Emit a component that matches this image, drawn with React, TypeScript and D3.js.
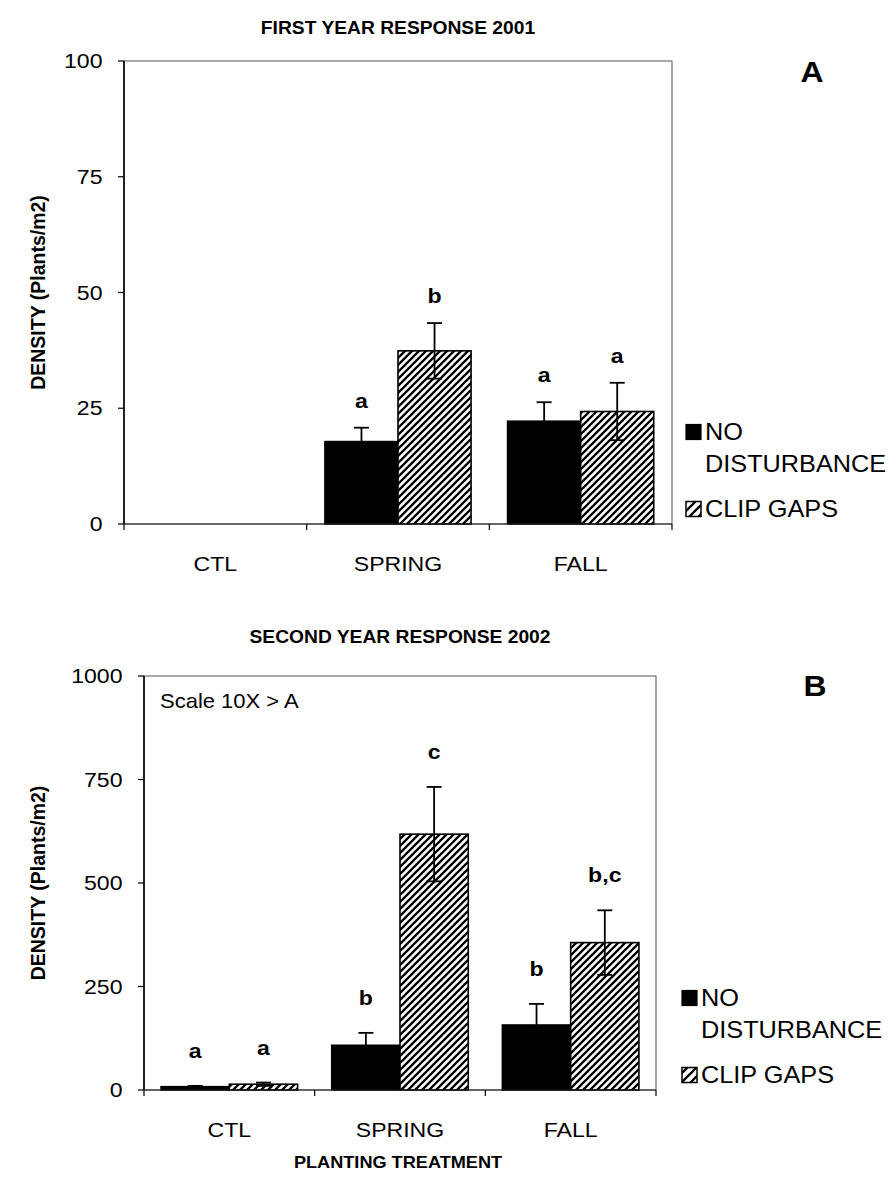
import React from "react";
import * as d3 from "d3";

const categories = ["CTL", "SPRING", "FALL"];
const seriesLabels = ["NO", "DISTURBANCE", "CLIP GAPS"];

// First year response (2001), plants/m2
const firstNoDisturbance = [0, 17.8, 22.2];
const firstClipGaps = [0, 37.4, 24.3];
const firstNoDisturbanceSE = [0, 3.0, 4.1];
const firstClipGapsSE = [0, 6.0, 6.2];
const firstNoDisturbanceLetters = ["", "a", "a"];
const firstClipGapsLetters = ["", "b", "a"];
const firstTicks = [0, 25, 50, 75, 100];

// Second year response (2002), plants/m2
const secondNoDisturbance = [8, 108, 157];
const secondClipGaps = [14, 618, 356];
const secondNoDisturbanceSE = [2, 30, 51];
const secondClipGapsSE = [4, 114, 78];
const secondNoDisturbanceLetters = ["a", "b", "b"];
const secondClipGapsLetters = ["a", "c", "b,c"];
const secondTicks = [0, 250, 500, 750, 1000];

const FONT = "'Liberation Sans', Arial, Helvetica, sans-serif";
const SX = 1.1; // glyphs in this figure are set slightly wide

type TxtProps = {
  x: number;
  y: number;
  size: number;
  anchor?: "start" | "middle" | "end";
  bold?: boolean;
  central?: boolean;
  children: React.ReactNode;
};

function Txt({ x, y, size, anchor = "middle", bold = false, central = true, children }: TxtProps) {
  return (
    <text
      transform={`translate(${x},${y}) scale(${SX},1)`}
      textAnchor={anchor}
      dominantBaseline={central ? "central" : "alphabetic"}
      fontFamily={FONT}
      fontSize={size}
      fontWeight={bold ? "bold" : "normal"}
      fill="#000"
    >
      {children}
    </text>
  );
}

type PanelProps = {
  title: string;
  tag: string;
  titleY: number;
  tagX: number;
  tagY: number;
  left: number;
  right: number;
  top: number;
  bottom: number;
  yMax: number;
  ticks: number[];
  noDist: number[];
  clip: number[];
  noDistSE: number[];
  clipSE: number[];
  noDistLetters: string[];
  clipLetters: string[];
  letterGap: number;
  legendX: number;
  note?: string;
};

function Panel(p: PanelProps) {
  const x = d3.scaleBand<string>().domain(categories).range([p.left, p.right]).paddingInner(0.2).paddingOuter(0.1);
  const sub = d3.scaleBand<number>().domain([0, 1]).range([0, x.bandwidth()]);
  const y = d3.scaleLinear().domain([0, p.yMax]).range([p.bottom, p.top]);
  const step = x.step();
  const boundaries = d3.range(categories.length + 1).map((i) => p.left + i * step);
  const series = [
    { values: p.noDist, se: p.noDistSE, letters: p.noDistLetters, fill: "#000" },
    { values: p.clip, se: p.clipSE, letters: p.clipLetters, fill: "url(#hatch)" },
  ];
  const midY = (p.top + p.bottom) / 2;
  const cap = 7.5;

  return (
    <g>
      <Txt x={(p.left + p.right) / 2} y={p.titleY} size={17.5} bold>
        {p.title}
      </Txt>
      <Txt x={p.tagX} y={p.tagY} size={29} bold>
        {p.tag}
      </Txt>

      {/* y axis title */}
      <text
        transform={`translate(38,${midY}) rotate(-90)`}
        textAnchor="middle"
        dominantBaseline="central"
        fontFamily={FONT}
        fontSize={19.5}
        fontWeight="bold"
      >
        DENSITY (Plants/m2)
      </text>

      {/* plot frame */}
      <rect x={p.left} y={p.top} width={p.right - p.left} height={p.bottom - p.top} fill="none" stroke="#555" strokeWidth={1} />

      {/* bars */}
      {series.map((s, si) =>
        categories.map((c, ci) => {
          const v = s.values[ci];
          const bx = (x(c) as number) + (sub(si) as number);
          const bw = sub.bandwidth();
          const h = p.bottom - y(v);
          return h > 0 ? (
            <rect key={`b${si}${ci}`} x={bx} y={y(v)} width={bw} height={h} fill={s.fill} stroke="#000" strokeWidth={1.6} />
          ) : null;
        })
      )}

      {/* error bars */}
      {series.map((s, si) =>
        categories.map((c, ci) => {
          const v = s.values[ci];
          const e = s.se[ci];
          if (e <= 0) return null;
          const cx = (x(c) as number) + (sub(si) as number) + sub.bandwidth() / 2;
          const yt = y(v + e);
          const yb = y(Math.max(0, v - e));
          return (
            <g key={`e${si}${ci}`} stroke="#000" strokeWidth={1.8}>
              <line x1={cx} x2={cx} y1={yt} y2={yb} />
              <line x1={cx - cap} x2={cx + cap} y1={yt} y2={yt} />
              <line x1={cx - cap} x2={cx + cap} y1={yb} y2={yb} />
            </g>
          );
        })
      )}

      {/* significance letters */}
      {series.map((s, si) =>
        categories.map((c, ci) => {
          const lbl = s.letters[ci];
          if (!lbl) return null;
          const cx = (x(c) as number) + (sub(si) as number) + sub.bandwidth() / 2;
          const yl = y(s.values[ci] + s.se[ci]) - p.letterGap;
          return (
            <Txt key={`l${si}${ci}`} x={cx} y={yl} size={21} bold central={false}>
              {lbl}
            </Txt>
          );
        })
      )}

      {/* axes */}
      <line x1={p.left} x2={p.left} y1={p.top} y2={p.bottom} stroke="#000" strokeWidth={1.6} />
      <line x1={p.left} x2={p.right} y1={p.bottom} y2={p.bottom} stroke="#222" strokeWidth={1.2} />
      {p.ticks.map((t) => (
        <g key={`t${t}`}>
          <line x1={p.left - 6} x2={p.left} y1={y(t)} y2={y(t)} stroke="#000" strokeWidth={1.2} />
          <Txt x={p.left - 21.5} y={y(t)} size={21} anchor="end">
            {t}
          </Txt>
        </g>
      ))}
      {boundaries.map((bx, i) => (
        <line key={`xb${i}`} x1={bx} x2={bx} y1={p.bottom} y2={p.bottom + 6} stroke="#000" strokeWidth={1.2} />
      ))}
      {categories.map((c) => (
        <Txt key={`c${c}`} x={(x(c) as number) + x.bandwidth() / 2} y={p.bottom + 40} size={21}>
          {c}
        </Txt>
      ))}

      {p.note ? (
        <Txt x={p.left + 16} y={p.top + 25} size={20} anchor="start">
          {p.note}
        </Txt>
      ) : null}

      {/* legend */}
      <rect x={p.legendX} y={p.bottom - 92 - 7.5} width={15} height={15} fill="#000" stroke="#000" strokeWidth={1.2} />
      <Txt x={p.legendX + 19} y={p.bottom - 92} size={23} anchor="start">
        {seriesLabels[0]}
      </Txt>
      <Txt x={p.legendX + 19} y={p.bottom - 60} size={23} anchor="start">
        {seriesLabels[1]}
      </Txt>
      <rect x={p.legendX} y={p.bottom - 15 - 7.5} width={15} height={15} fill="url(#hatchLegend)" stroke="#000" strokeWidth={1.5} />
      <Txt x={p.legendX + 19} y={p.bottom - 15} size={23} anchor="start">
        {seriesLabels[2]}
      </Txt>
    </g>
  );
}

export default function App() {
  return (
    <svg
      width={896}
      height={1193}
      viewBox="0 0 896 1193"
      style={{ position: "absolute", left: 0, top: 0, background: "#fff" }}
    >
      <defs>
        <pattern id="hatch" patternUnits="userSpaceOnUse" width={7} height={7}>
          <rect width={7} height={7} fill="#fff" />
          <path d="M-1,1 L1,-1 M0,7 L7,0 M6,8 L8,6" stroke="#000" strokeWidth={2.3} />
        </pattern>
        <pattern id="hatchLegend" patternUnits="userSpaceOnUse" width={9} height={9}>
          <rect width={9} height={9} fill="#fff" />
          <path d="M-1,1 L1,-1 M0,9 L9,0 M8,10 L10,8" stroke="#000" strokeWidth={2.3} />
        </pattern>
      </defs>
      <rect width={896} height={1193} fill="#fff" />

      <Panel
        title="FIRST YEAR RESPONSE 2001"
        tag="A"
        titleY={28}
        tagX={812}
        tagY={72}
        left={124}
        right={672}
        top={61}
        bottom={524}
        yMax={100}
        ticks={firstTicks}
        noDist={firstNoDisturbance}
        clip={firstClipGaps}
        noDistSE={firstNoDisturbanceSE}
        clipSE={firstClipGapsSE}
        noDistLetters={firstNoDisturbanceLetters}
        clipLetters={firstClipGapsLetters}
        letterGap={20}
        legendX={686}
      />
      <Panel
        title="SECOND YEAR RESPONSE 2002"
        tag="B"
        titleY={637}
        tagX={815}
        tagY={686}
        left={144}
        right={656}
        top={676}
        bottom={1090}
        yMax={1000}
        ticks={secondTicks}
        noDist={secondNoDisturbance}
        clip={secondClipGaps}
        noDistSE={secondNoDisturbanceSE}
        clipSE={secondClipGapsSE}
        noDistLetters={secondNoDisturbanceLetters}
        clipLetters={secondClipGapsLetters}
        letterGap={28}
        legendX={682}
        note="Scale 10X > A"
      />

      <Txt x={398} y={1162} size={16.5} bold>
        PLANTING TREATMENT
      </Txt>
    </svg>
  );
}
